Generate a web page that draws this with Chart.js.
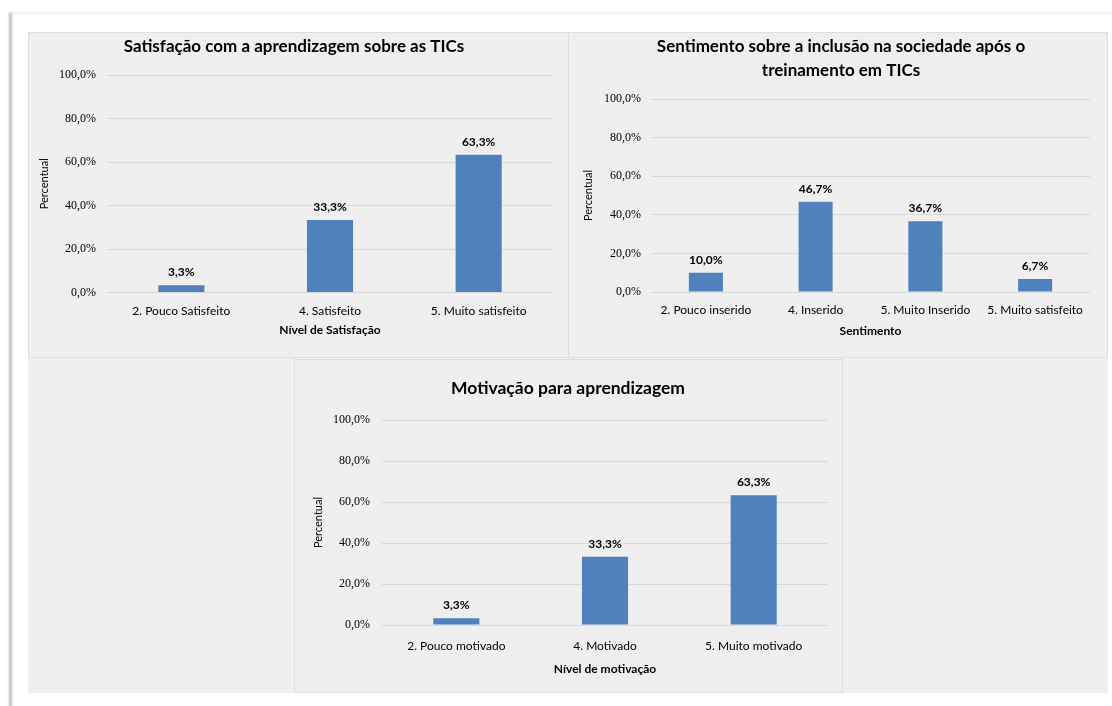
<!DOCTYPE html>
<html lang="pt">
<head>
<meta charset="utf-8">
<title>Resultados do treinamento em TICs</title>
<script src="https://cdn.jsdelivr.net/npm/chart.js@4.4.1/dist/chart.umd.min.js"></script>
<style>
  html, body { margin: 0; padding: 0; background: #fff; }
  body { width: 1112px; height: 706px; position: relative; overflow: hidden; }
  .sheet {
    position: absolute; left: 9px; top: 12px; width: 1110px; height: 700px;
    border-left: 3px solid #bdbdbd; border-top: 2px solid #ececec;
    filter: blur(0.8px);
  }
  .area { position: absolute; left: 28px; top: 32px; width: 1080px; height: 661px; background: #efefef; }
  .panel { position: absolute; box-sizing: border-box; border: 1px solid #dedede; background: #efefef; }
  canvas { position: absolute; }
</style>
</head>
<body>
<div class="sheet"></div>
<div class="area"></div>
<div class="panel" style="left:28px;top:32px;width:541px;height:326px"></div>
<div class="panel" style="left:568px;top:32px;width:540px;height:326px"></div>
<div class="panel" style="left:294px;top:359px;width:549px;height:334px"></div>
<canvas id="chartSatisfacao" width="540" height="325" style="left:28px;top:32px"></canvas>
<canvas id="chartSentimento" width="540" height="325" style="left:568px;top:32px"></canvas>
<canvas id="chartMotivacao" width="548" height="334" style="left:294px;top:359px"></canvas>
<script>
// Survey results (percent of respondents)
const satisfacaoCats = ['2. Pouco Satisfeito', '4. Satisfeito', '5. Muito satisfeito'];
const satisfacaoVals = [3.3, 33.3, 63.3];

const sentimentoCats = ['2. Pouco inserido', '4. Inserido', '5. Muito Inserido', '5. Muito satisfeito'];
const sentimentoVals = [10.0, 46.7, 36.7, 6.7];

const motivacaoCats = ['2. Pouco motivado', '4. Motivado', '5. Muito motivado'];
const motivacaoVals = [3.3, 33.3, 63.3];

const yTickValues = [0, 20, 40, 60, 80, 100];
const yTickLabels = ['0,0%', '20,0%', '40,0%', '60,0%', '80,0%', '100,0%'];

const BAR_COLOR = '#4f81bd';
const FONT = 'Lato, "Open Sans", sans-serif';
const TICK_FONT = '"Liberation Serif", serif';

function fmtPct(v) {
    return v.toFixed(1).replace('.', ',') + '%';
}

// Bold value on top of each bar
const valueLabels = {
    id: 'valueLabels',
    afterDatasetsDraw(chart) {
        const ctx = chart.ctx;
        const values = chart.data.datasets[0].data;
        ctx.save();
        ctx.font = 'bold 12px ' + FONT;
        ctx.fillStyle = '#000';
        ctx.textAlign = 'center';
        ctx.textBaseline = 'middle';
        chart.getDatasetMeta(0).data.forEach((bar, i) => {
            ctx.fillText(fmtPct(values[i]), bar.x, bar.y - 13);
        });
        ctx.restore();
    }
};

// Chart heading, centred on a given x (the built-in title only centres on the canvas)
const panelTitle = {
    id: 'panelTitle',
    afterDraw(chart, args, opts) {
        const ctx = chart.ctx;
        ctx.save();
        ctx.font = 'bold ' + opts.size + 'px ' + FONT;
        ctx.fillStyle = '#000';
        ctx.textAlign = 'center';
        ctx.textBaseline = 'middle';
        opts.lines.forEach((line, i) => {
            ctx.fillText(line, opts.x, opts.y + i * opts.lineHeight);
        });
        ctx.restore();
    }
};

function makeChart(id, labels, values, axisTitle, box) {
    return new Chart(document.getElementById(id), {
        type: 'bar',
        data: {
            labels: labels,
            datasets: [{
                data: values,
                backgroundColor: BAR_COLOR,
                barPercentage: 0.31,
                categoryPercentage: 1
            }]
        },
        options: {
            responsive: false,
            animation: false,
            layout: { padding: { left: 6, right: box.padRight, top: box.padTop, bottom: 0 } },
            plugins: {
                legend: { display: false },
                tooltip: { enabled: false },
                panelTitle: box.title
            },
            scales: {
                x: {
                    grid: { display: false },
                    border: { display: false },
                    ticks: {
                        color: '#000',
                        font: { family: FONT, size: 12 },
                        padding: box.xTickPad,
                        maxRotation: 0,
                        autoSkip: false
                    },
                    title: {
                        display: true,
                        text: axisTitle,
                        color: '#000',
                        font: { family: FONT, size: 12, weight: 'bold' },
                        padding: { top: 0, bottom: box.xTitlePad }
                    },
                    afterFit: (scale) => { scale.height = box.xHeight; }
                },
                y: {
                    min: 0,
                    max: 100,
                    ticks: {
                        stepSize: 20,
                        color: '#000',
                        font: { family: TICK_FONT, size: 12 },
                        padding: box.yTickPad,
                        callback: (v) => yTickLabels[yTickValues.indexOf(v)]
                    },
                    grid: { color: '#d9d9d9', drawTicks: false },
                    border: { display: false },
                    title: {
                        display: true,
                        text: 'Percentual',
                        color: '#000',
                        font: { family: FONT, size: 11 },
                        padding: { top: box.yTitlePad, bottom: 0 }
                    },
                    afterFit: (scale) => { scale.width = box.yWidth; }
                }
            }
        },
        plugins: [valueLabels, panelTitle]
    });
}

makeChart('chartSatisfacao', satisfacaoCats, satisfacaoVals, 'Nível de Satisfação', {
    padTop: 43, padRight: 15, yWidth: 73, yTickPad: 11, yTitlePad: 4,
    xHeight: 64.5, xTickPad: 3, xTitlePad: 20,
    title: { lines: ['Satisfação com a aprendizagem sobre as TICs'], x: 266, y: 15, size: 17, lineHeight: 24 }
});

makeChart('chartSentimento', sentimentoCats, sentimentoVals, 'Sentimento', {
    padTop: 67, padRight: 18, yWidth: 77, yTickPad: 10, yTitlePad: 7.4,
    xHeight: 65, xTickPad: 3, xTitlePad: 18.4,
    title: { lines: ['Sentimento sobre a inclusão na sociedade após o', 'treinamento em TICs'], x: 273, y: 15, size: 17, lineHeight: 24 }
});

makeChart('chartMotivacao', motivacaoCats, motivacaoVals, 'Nível de motivação', {
    padTop: 61, padRight: 14, yWidth: 82, yTickPad: 12, yTitlePad: 11.4,
    xHeight: 68, xTickPad: 6, xTitlePad: 16.4,
    title: { lines: ['Motivação para aprendizagem'], x: 274, y: 29, size: 17.5, lineHeight: 24 }
});
</script>
</body>
</html>
